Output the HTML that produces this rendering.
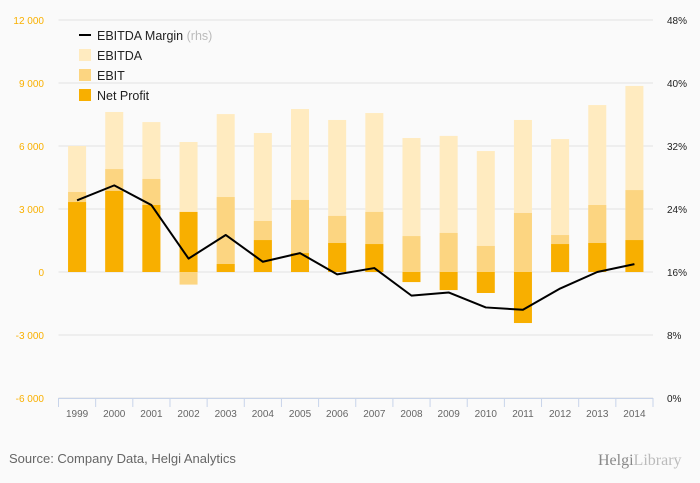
<!DOCTYPE html>
<html><head><meta charset="utf-8"><style>
body{margin:0;background:#fafafa;font-family:"Liberation Sans",sans-serif;}
svg{display:block}
</style></head><body>
<svg id="c" width="700" height="483" xmlns="http://www.w3.org/2000/svg">
<rect width="700" height="483" fill="#fafafa"/>
<g id="grid"></g><g id="bars"></g><g id="line"></g><g id="axes"></g>
<g font-size="12.5" fill="#222">
<line x1="79" y1="35" x2="91" y2="35" stroke="#000" stroke-width="2"/>
<text x="97" y="40">EBITDA Margin <tspan fill="#bbb">(rhs)</tspan></text>
<rect x="79" y="49" width="12" height="12" fill="#ffebc0"/><text x="97" y="60">EBITDA</text>
<rect x="79" y="69" width="12" height="12" fill="#fcd581"/><text x="97" y="80">EBIT</text>
<rect x="79" y="89" width="12" height="12" fill="#f8af00"/><text x="97" y="100">Net Profit</text>
</g>
<text x="9" y="463" font-size="13" fill="#666">Source: Company Data, Helgi Analytics</text>
<text x="598" y="465" font-size="16" fill="#888" font-family="Liberation Serif,serif">Helgi<tspan fill="#bbb">Library</tspan></text>
</svg>
<script>
const years=["1999","2000","2001","2002","2003","2004","2005","2006","2007","2008","2009","2010","2011","2012","2013","2014"];
const ebitda=[6000,7620,7140,6190,7520,6620,7760,7240,7570,6380,6480,5760,7240,6330,7950,8860];
const ebit=[3810,4900,4430,-600,3570,2430,3430,2670,2860,1710,1860,1240,2810,1760,3190,3900];
const netProfit=[3330,3860,3190,2860,380,1520,900,1380,1330,-480,-860,-1000,-2430,1330,1380,1520];
const margin=[25.1,27.0,24.5,17.7,20.7,17.3,18.4,15.7,16.5,13.0,13.4,11.5,11.2,13.9,16.0,17.0];
const leftTicks=[12000,9000,6000,3000,0,-3000,-6000];
const rightTicks=[48,40,32,24,16,8,0];
const NS="http://www.w3.org/2000/svg";
const X0=58.5,X1=653,T=20,B=398;
const cw=(X1-X0)/years.length;
const y=v=>T+(12000-v)/18000*(B-T);
const yr=p=>B-p/48*(B-T);
const xc=i=>X0+cw*(i+0.5);
function mk(t,a,p){const e=document.createElementNS(NS,t);for(const k in a)e.setAttribute(k,a[k]);p.appendChild(e);return e;}
const g=document.getElementById('grid'),bg=document.getElementById('bars'),lg=document.getElementById('line'),ax=document.getElementById('axes');
leftTicks.forEach((v,i)=>{
 const l=mk('line',{x1:X0,x2:X1,y1:y(v),y2:y(v),stroke:'#e3e3e3'},g);
 
 
 const t=mk('text',{x:44,y:y(v)+4,'text-anchor':'end','font-size':10,fill:'#f9b000'},ax);t.textContent=v.toLocaleString('en').replace(',',' ');
 
 
 const r=mk('text',{x:667,y:yr(rightTicks[i])+4,'font-size':10,fill:'#222'},ax);r.textContent=rightTicks[i]+'%';
 
 
});
function bar(v,i,col,name){
 const top=Math.min(y(v),y(0)),h=Math.abs(y(v)-y(0));
 const r=mk('rect',{x:xc(i)-9,y:top,width:18,height:h,fill:col},bg);
 
 
}
years.forEach((yy,i)=>{bar(ebitda[i],i,'#ffebc0','bar-ebitda-'+yy);bar(ebit[i],i,'#fcd581','bar-ebit-'+yy);bar(netProfit[i],i,'#f8af00','bar-net-profit-'+yy);});
const pl=mk('polyline',{points:margin.map((m,i)=>xc(i)+','+yr(m)).join(' '),fill:'none',stroke:'#000','stroke-width':2,'stroke-linejoin':'round'},lg);


const xl=mk('line',{x1:X0,x2:X1,y1:B+0.5,y2:B+0.5,stroke:'#c8d4ea'},ax);


for(let i=0;i<=years.length;i++){const tk=mk('line',{x1:X0+cw*i,x2:X0+cw*i,y1:B,y2:B+9,stroke:'#c8d4ea'},ax);
 
 }
years.forEach((yy,i)=>{const t=mk('text',{x:xc(i),y:417,'text-anchor':'middle','font-size':10,fill:'#666'},ax);t.textContent=yy;
 
 });
</script>
</body></html>
